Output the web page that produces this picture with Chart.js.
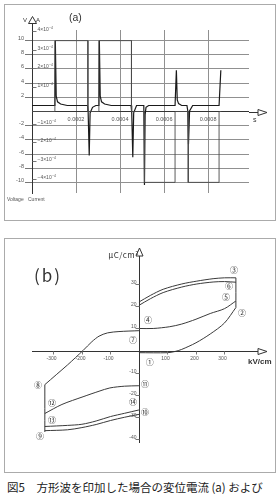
<!DOCTYPE html>
<html lang="ja">
<head>
<meta charset="utf-8">
<title>図5</title>
<script src="https://cdn.jsdelivr.net/npm/chart.js@4.4.1/dist/chart.umd.min.js"></script>
<style>
  html, body { margin: 0; padding: 0; background: #fff; }
  body { position: relative; width: 277px; height: 494px; overflow: hidden; font-family: "Liberation Sans", Arial, sans-serif; color: #333; }
  .panel { position: absolute; left: 4px; width: 270px; border: 1px solid #ababab; }
  #boxA { top: 4px; height: 215px; }
  #boxB { top: 238px; height: 233px; }
  .panel canvas { position: absolute; left: 0; top: 0; }
  .t { position: absolute; white-space: nowrap; line-height: 1; }
  #caption { left: 7px; top: 482px; font-family: "Noto Sans CJK JP"; font-size: 11.5px; color: #222; }
</style>
</head>
<body>
<div class="panel" id="boxA"><canvas id="chartA" width="270" height="215"></canvas></div>
<div class="panel" id="boxB"><canvas id="chartB" width="270" height="233"></canvas></div>

<div class="t" style="left:69px;top:12px;font-size:10.5px;">(a)</div>
<div class="t" style="left:23px;top:17px;font-size:6px;">V</div>
<div class="t" style="left:36px;top:17px;font-size:6px;">A</div>
<div class="t" style="left:253px;top:116px;font-size:7px;">s</div>
<div class="t" style="left:7px;top:197px;font-size:5px;color:#555;">Voltage</div>
<div class="t" style="left:28px;top:197px;font-size:5px;color:#555;">Current</div>

<div class="t" style="left:34px;top:266px;font-size:17px;letter-spacing:2px;font-family:'Noto Sans CJK JP';">(b)</div>
<div class="t" style="right:138px;top:251px;font-size:8px;letter-spacing:0.5px;font-family:'Noto Sans CJK JP';">μC/cm²</div>
<div class="t" style="left:248px;top:358px;font-size:8px;font-weight:bold;">kV/cm</div>

<div class="t" id="caption">図5　方形波を印加した場合の変位電流 (a) および</div>

<script>
// ---- (a) waveform: time in s, voltage in V, current in A
const timeV = [0, 0.000104, 0.000104, 0.000254, 0.000254, 0.000304, 0.000304, 0.000452, 0.000452,
               0.000511, 0.000511, 0.000650, 0.000650, 0.000710, 0.000710, 0.000850, 0.000850, 0.000860];
const voltV = [0, 0, 10, 10, 0, 0, 10, 10, 0,
               0, -10, -10, 0, 0, -10, -10, 0, 0];

const timeI = [0, 0.000104, 0.000106, 0.000110, 0.000116, 0.000130, 0.000160,
               0.000252, 0.000255, 0.000260, 0.000264, 0.000275, 0.000290,
               0.000304, 0.000306, 0.000310, 0.000316, 0.000330, 0.000360,
               0.000450, 0.000453, 0.000458, 0.000462, 0.000475,
               0.000508, 0.000511, 0.000514, 0.000518, 0.000530,
               0.000650, 0.000656, 0.000660, 0.000666, 0.000680,
               0.000704, 0.000708, 0.000711, 0.000716, 0.000730,
               0.000850, 0.000858];
const currI = [0, 0, 3.5e-4, 0.5e-4, 0.2e-4, 0.08e-4, 0,
               0, -0.3e-4, -2.7e-4, -0.4e-4, -0.1e-4, 0,
               0, 3.5e-4, 0.5e-4, 0.2e-4, 0.08e-4, 0,
               0, -0.3e-4, -2.8e-4, -0.4e-4, 0,
               0, -4.3e-4, -0.5e-4, -0.1e-4, 0,
               0, 1.9e-4, 0.3e-4, 0.1e-4, 0,
               0, -0.3e-4, -2.1e-4, -0.3e-4, 0,
               0, 1.9e-4];

const timeTicks = [0.0002, 0.0004, 0.0006, 0.0008];
const currentTicks = [4, 3, 2, 1, -1, -2, -3, -4]; // x 10^-4 A

// ---- (b) hysteresis: field in kV/cm, polarization in uC/cm2
const loop1E = [0, 100, 125, 150, 200, 250, 300, 340];
const loop1P = [-1, -1, -0.5, 0.5, 3.5, 7.5, 12.5, 19.5];
const loop2E = [340, 340];
const loop2P = [19.5, 33];
const loop3E = [0, 40, 85, 150, 203, 260, 300, 340];
const loop3P = [22, 25, 27.8, 30.2, 31.5, 32.6, 33, 33];
const loop4E = [0, 40, 85, 150, 203, 260, 300, 340];
const loop4P = [20.5, 23.5, 26.3, 28.8, 30.2, 31.1, 31.3, 31];
const loop5E = [0, 50, 108, 150, 200, 250, 300, 340];
const loop5P = [10, 10, 10.8, 12, 14.2, 16.8, 19, 22.5];
const loop6E = [-330, -290, -250, -196, -165, -140, -110, -70, 0];
const loop6P = [-15.5, -11, -6.5, 0, 4, 6.5, 8, 8.6, 9];
const loop7E = [-330, -330];
const loop7P = [-15.5, -37];
const loop8E = [-330, -270, -196, -140, -102, -50, 0];
const loop8P = [-28.6, -24.5, -21, -18.5, -17, -16.2, -16];
const loop9E = [-330, -250, -200, -150, -100, -50, 0];
const loop9P = [-34.5, -34, -33.5, -32, -30, -28.5, -27];
const loop10E = [-330, -250, -200, -150, -100, -50, 0];
const loop10P = [-36.4, -36, -35, -33.6, -31.8, -30.3, -29];

const markText = ['①', '②', '③', '④', '⑤', '⑥', '⑦', '⑧', '⑨', '⑩', '⑪', '⑫', '⑬', '⑭'];
const markE = [38, 361, 333, 32, 305, 316, -21, -354, -347, 21, 21, -305, -305, -21];
const markP = [-5.2, 17, 36.6, 13.9, 24.3, 29.3, 4.8, -15.7, -38.9, -28, -15.2, -24, -31.6, -23.4];

const fieldTicks = [-300, -200, -100, 100, 200, 300];
const polTicks = [30, 20, 10, -10, -20, -30, -40];

const zip = (xs, ys) => xs.map((v, i) => ({x: v, y: ys[i]}));
const AXIS = '#333';
const GRID = '#909090';
const LABEL = '#555';

const axesA = {
    id: 'axesA',
    afterDraw(chart) {
        const {ctx, chartArea: ca, scales} = chart;
        const yA = scales.yA;
        const y0 = Math.round(scales.yV.getPixelForValue(0)) + 0.5;
        const xl = Math.round(ca.left) + 0.5;
        ctx.save();
        ctx.strokeStyle = AXIS;
        ctx.lineWidth = 1;
        // x axis runs past the grid to a hollow arrow
        ctx.beginPath();
        ctx.moveTo(ca.right, y0);
        ctx.lineTo(ca.right + 9, y0);
        ctx.stroke();
        ctx.beginPath();
        ctx.moveTo(ca.right + 9, y0 - 3);
        ctx.lineTo(ca.right + 18, y0);
        ctx.lineTo(ca.right + 9, y0 + 3);
        ctx.closePath();
        ctx.stroke();
        // y axis arrow
        ctx.beginPath();
        ctx.moveTo(xl, ca.top);
        ctx.lineTo(xl, ca.top - 6.5);
        ctx.stroke();
        ctx.beginPath();
        ctx.moveTo(xl - 4, ca.top - 6.5);
        ctx.lineTo(xl, ca.top - 13.5);
        ctx.lineTo(xl + 4, ca.top - 6.5);
        ctx.closePath();
        ctx.stroke();

        // current labels on the inside of the axis
        ctx.fillStyle = LABEL;
        ctx.strokeStyle = '#777';
        ctx.textAlign = 'left';
        ctx.textBaseline = 'alphabetic';
        currentTicks.forEach(v => {
            const py = Math.round(yA.getPixelForValue(v * 1e-4)) + 0.5;
            ctx.beginPath();
            ctx.moveTo(xl, py);
            ctx.lineTo(xl + 4, py);
            ctx.stroke();
            ctx.font = '5px Arial';
            const base = (v < 0 ? '−' : '') + Math.abs(v) + '×10';
            ctx.fillText(base, xl + 5, py - 0.5);
            const w = ctx.measureText(base).width;
            ctx.font = '3.5px Arial';
            ctx.fillText('−4', xl + 5.3 + w, py - 3);
        });

        // time labels under the axis
        ctx.font = '5.5px Arial';
        ctx.textAlign = 'center';
        ctx.textBaseline = 'middle';
        timeTicks.forEach(t => {
            ctx.fillText(t.toFixed(4), scales.x.getPixelForValue(t), y0 + 7);
        });
        ctx.restore();
    }
};

new Chart(document.getElementById('chartA'), {
    type: 'line',
    data: {
        datasets: [{
            label: 'Voltage',
            data: zip(timeV, voltV),
            yAxisID: 'yV',
            borderColor: '#4a4a4a',
            borderWidth: 0.9,
            pointRadius: 0,
            tension: 0
        },
            {
                label: 'Current',
                data: zip(timeI, currI),
                yAxisID: 'yA',
                borderColor: '#1a1a1a',
                borderWidth: 1.2,
                pointRadius: 0,
                tension: 0
            }]
    },
    options: {
        responsive: false,
        animation: false,
        events: [],
        layout: {padding: {left: 0, top: 25, right: 26, bottom: 27}},
        plugins: {legend: {display: false}, tooltip: {enabled: false}},
        scales: {
            x: {
                type: 'linear',
                min: 0,
                max: 0.000986,
                ticks: {display: false, stepSize: 0.0002, includeBounds: false},
                grid: {
                    drawTicks: false,
                    color: c => (c.tick && c.tick.value === 0) ? 'rgba(0,0,0,0)' : GRID
                },
                border: {display: false}
            },
            yV: {
                position: 'left',
                weight: 1,
                min: -11.5,
                max: 11.5,
                afterFit: axis => { axis.width = 27; },
                ticks: {
                    stepSize: 2,
                    includeBounds: false,
                    padding: 1,
                    labelOffset: -2,
                    color: LABEL,
                    font: {size: 5.5, family: 'Arial'},
                    callback: v => v === 0 ? '' : v
                },
                grid: {
                    drawTicks: true,
                    tickLength: 7,
                    color: c => (c.tick && c.tick.value === 0) ? AXIS : GRID,
                    tickColor: c => (c.tick && c.tick.value === 0) ? 'rgba(0,0,0,0)' : '#777'
                },
                border: {color: AXIS}
            },
            yA: {
                display: false,
                min: -4.73e-4,
                max: 4.08e-4
            }
        }
    },
    plugins: [axesA]
});

const axesB = {
    id: 'axesB',
    afterDraw(chart) {
        const {ctx, chartArea: ca, scales} = chart;
        const x = scales.x, y = scales.y;
        const x0 = Math.round(x.getPixelForValue(0)) + 0.5;
        const y0 = Math.round(y.getPixelForValue(0)) + 0.5;
        ctx.save();
        ctx.strokeStyle = AXIS;
        ctx.lineWidth = 1;
        ctx.beginPath();
        ctx.moveTo(ca.left, y0);
        ctx.lineTo(ca.right, y0);
        ctx.moveTo(x0, ca.bottom);
        ctx.lineTo(x0, ca.top - 2);
        ctx.stroke();
        ctx.beginPath();
        ctx.moveTo(ca.right, y0 - 3);
        ctx.lineTo(ca.right + 9, y0);
        ctx.lineTo(ca.right, y0 + 3);
        ctx.closePath();
        ctx.stroke();
        ctx.beginPath();
        ctx.moveTo(x0 - 3.5, ca.top - 2);
        ctx.lineTo(x0, ca.top - 10);
        ctx.lineTo(x0 + 3.5, ca.top - 2);
        ctx.closePath();
        ctx.stroke();

        ctx.fillStyle = LABEL;
        ctx.strokeStyle = '#777';
        ctx.font = '5px Arial';
        ctx.textAlign = 'center';
        ctx.textBaseline = 'middle';
        fieldTicks.forEach(v => {
            const px = Math.round(x.getPixelForValue(v)) + 0.5;
            ctx.beginPath();
            ctx.moveTo(px, y0);
            ctx.lineTo(px, y0 + 3);
            ctx.stroke();
            ctx.fillText(String(v), px - 2, y0 + 7);
        });
        ctx.textAlign = 'right';
        ctx.textBaseline = 'alphabetic';
        polTicks.forEach(v => {
            const py = Math.round(y.getPixelForValue(v)) + 0.5;
            ctx.beginPath();
            ctx.moveTo(x0 - 4, py);
            ctx.lineTo(x0, py);
            ctx.stroke();
            ctx.fillText(String(v), x0 - 3, py - 0.5);
        });

        ctx.fillStyle = '#333';
        ctx.font = '8px "Noto Sans CJK JP"';
        ctx.textAlign = 'center';
        ctx.textBaseline = 'middle';
        markText.forEach((s, i) => {
            ctx.fillText(s, x.getPixelForValue(markE[i]), y.getPixelForValue(markP[i]));
        });
        ctx.restore();
    }
};

const loops = [
    [loop1E, loop1P], [loop2E, loop2P], [loop3E, loop3P], [loop4E, loop4P], [loop5E, loop5P],
    [loop6E, loop6P], [loop7E, loop7P], [loop8E, loop8P], [loop9E, loop9P], [loop10E, loop10P]
];

new Chart(document.getElementById('chartB'), {
    type: 'line',
    data: {
        datasets: loops.map((l, i) => ({
            label: 'loop' + (i + 1),
            data: zip(l[0], l[1]),
            borderColor: '#3a3a3a',
            borderWidth: 1,
            pointRadius: 0,
            tension: 0.3
        }))
    },
    options: {
        responsive: false,
        animation: false,
        events: [],
        layout: {padding: {left: 27, top: 19, right: 17, bottom: 29}},
        plugins: {legend: {display: false}, tooltip: {enabled: false}},
        scales: {
            x: {type: 'linear', display: false, min: -375, max: 417.5},
            y: {type: 'linear', display: false, min: -42, max: 42}
        }
    },
    plugins: [axesB]
});
</script>
</body>
</html>
